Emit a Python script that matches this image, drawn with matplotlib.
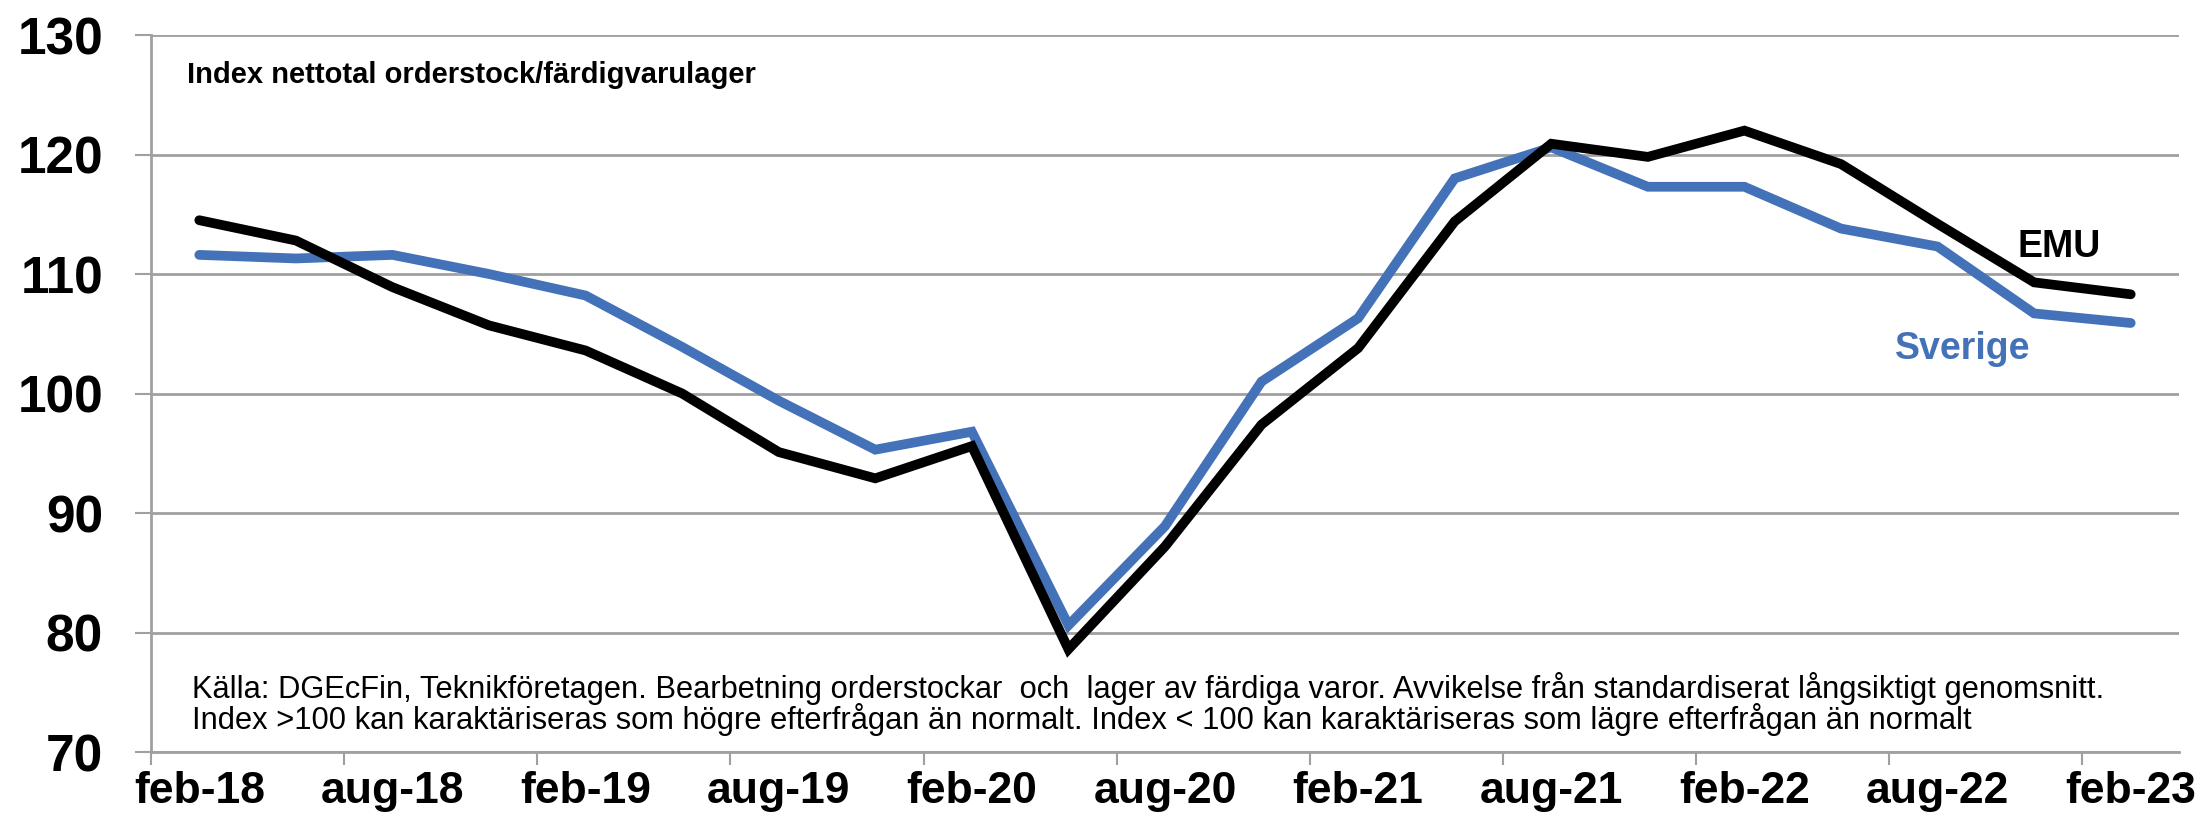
import numpy as np
import matplotlib
matplotlib.use("Agg")
import matplotlib.pyplot as plt
from matplotlib.ticker import FixedLocator, NullFormatter

plt.rcParams['font.family'] = ['Liberation Sans', 'DejaVu Sans']

# Quarterly observations, feb-18 .. feb-23
quarters = ['feb-18', 'maj-18', 'aug-18', 'nov-18',
            'feb-19', 'maj-19', 'aug-19', 'nov-19',
            'feb-20', 'maj-20', 'aug-20', 'nov-20',
            'feb-21', 'maj-21', 'aug-21', 'nov-21',
            'feb-22', 'maj-22', 'aug-22', 'nov-22',
            'feb-23']
emu = [114.5, 112.8, 108.9, 105.7, 103.6, 100.0, 95.1, 92.9, 95.6, 78.6,
       87.2, 97.4, 103.8, 114.4, 120.9, 119.8, 122.0, 119.2, 114.2, 109.3,
       108.3]
sverige = [111.6, 111.3, 111.6, 110.0, 108.2, 103.9, 99.4, 95.3, 96.8, 80.6,
           88.9, 101.0, 106.3, 118.0, 120.6, 117.3, 117.3, 113.8, 112.3, 106.7,
           105.9]
y_ticks = [70, 80, 90, 100, 110, 120, 130]

title = 'Index nettotal orderstock/färdigvarulager'
note1 = ('Källa: DGEcFin, Teknikföretagen. Bearbetning orderstockar  och  lager av '
         'färdiga varor. Avvikelse från standardiserat långsiktigt genomsnitt.')
note2 = ('Index >100 kan karaktäriseras som högre efterfrågan än normalt. '
         'Index < 100 kan karaktäriseras som lägre efterfrågan än normalt')

W, H = 2203, 822
fig = plt.figure(figsize=(W / 100, H / 100), dpi=100)
ax = fig.add_axes([151 / W, 1 - 752 / H, (2179 - 151) / W, (752 - 35) / H])

grey = '#a0a0a0'
blue = '#4472b8'
x = np.arange(len(quarters))

ax.plot(x, sverige, color=blue, lw=7, solid_capstyle='round', solid_joinstyle='miter', zorder=3)
ax.plot(x, emu, color='black', lw=7, solid_capstyle='round', solid_joinstyle='miter', zorder=4)

ax.set_xlim(-0.5, len(quarters) - 0.5)
ax.set_ylim(70, 130)

# y axis
ax.set_yticks(y_ticks)
ax.set_yticklabels([str(v) for v in y_ticks], fontsize=37, fontweight='bold')
ax.tick_params(axis='y', length=11.5, width=1.5, color=grey, pad=23)
ax.yaxis.grid(True, color=grey, lw=2, zorder=0)
ax.set_axisbelow(True)

# x axis: tick marks between categories, labels under every second point
ax.xaxis.set_major_locator(FixedLocator(np.arange(-0.5, len(quarters) - 1, 2)))
ax.xaxis.set_major_formatter(NullFormatter())
ax.xaxis.set_minor_locator(FixedLocator(x[::2]))
ax.set_xticklabels(quarters[::2], minor=True, fontsize=32, fontweight='bold')
ax.tick_params(axis='x', which='major', length=9, width=1.5, color=grey)
ax.tick_params(axis='x', which='minor', length=0, pad=14)

for side in ['top', 'right']:
    ax.spines[side].set_visible(False)
for side in ['left', 'bottom']:
    ax.spines[side].set_color(grey)
    ax.spines[side].set_linewidth(2)

fig.text(187 / W, 1 - 83 / H, title, fontsize=21, fontweight='bold', va='baseline')
fig.text(192 / W, 1 - 688 / H, note1, fontsize=22.2, va='center')
fig.text(192 / W, 1 - 719 / H, note2, fontsize=22.2, va='center')

ax.text(19.26, 112.3, 'EMU', fontsize=27, fontweight='bold', ha='center', va='center')
ax.text(18.26, 103.7, 'Sverige', fontsize=27, fontweight='bold', color=blue,
        ha='center', va='center')

fig.savefig('out.png', dpi=100)
